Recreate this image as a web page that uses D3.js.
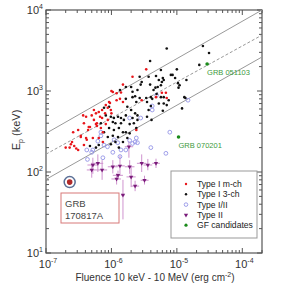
<!DOCTYPE html>
<html>
<head>
<meta charset="utf-8">
<script src="https://cdn.jsdelivr.net/npm/d3@7"></script>
<style>
  body { margin: 0; background: #fff; }
  svg { font-family: "Liberation Sans", Arial, sans-serif; }
</style>
</head>
<body>
<div id="plot-container"></div>
<script>
// [fluence (erg cm^-2), Ep (keV)]
const typeIMch = [
  [3.4e-6, 1850], [2.1e-6, 1500], [1.5e-6, 1200], [6.8e-6, 950], [1.0e-6, 1000],
  [1.05e-6, 970], [1.2e-6, 940], [1.4e-6, 960], [7.0e-6, 820], [5.9e-6, 950],
  [2.9e-6, 770], [4.8e-6, 840], [2.4e-6, 330], [5.4e-7, 583], [4.1e-7, 480],
  [5.0e-7, 500], [5.4e-7, 440], [5.8e-7, 530], [6.4e-7, 550], [8.2e-7, 670],
  [9.2e-7, 730], [8.8e-7, 620], [9.8e-7, 583], [7.2e-7, 464], [8.8e-7, 440],
  [4.5e-7, 360], [4.4e-7, 330], [5.8e-7, 390], [3.8e-7, 400], [6.9e-7, 350],
  [3.1e-7, 330], [2.6e-7, 310], [3.4e-7, 280], [2.4e-7, 220], [4.1e-7, 263],
  [6.4e-7, 263], [7.4e-7, 235], [2.0e-7, 200], [2.7e-7, 209], [2.3e-7, 200],
  [2.9e-7, 195], [3.8e-7, 215], [3.1e-7, 187], [8.2e-7, 390], [6.0e-7, 370],
  [1.2e-6, 770], [1.35e-6, 800], [1.5e-6, 732], [9.5e-7, 710], [7.2e-7, 583],
  [8.0e-7, 530], [1.0e-6, 530], [6.7e-7, 480], [3.7e-7, 500], [6.0e-7, 400],
  [4.7e-7, 360], [7.4e-7, 310], [3.4e-7, 270], [2.5e-7, 235], [4.2e-7, 250],
  [5.2e-7, 263]
];
const typeI3ch = [
  [7.0e-6, 3350], [2.5e-5, 3600], [3.1e-5, 2950], [3.9e-6, 2350], [5.7e-6, 1815],
  [1.0e-5, 1850], [8.1e-6, 1580], [9.4e-6, 1446], [1.4e-5, 1370], [1.1e-5, 1180],
  [1.06e-5, 1100], [6.3e-6, 1370], [5.3e-6, 1370], [5.7e-6, 1180], [4.7e-6, 1100],
  [4.4e-6, 1028], [4.9e-6, 918], [4.0e-6, 840], [3.4e-6, 820], [6.3e-6, 840],
  [3.5e-6, 732], [4.0e-6, 653], [5.3e-6, 700], [6.3e-6, 700], [3.7e-6, 583],
  [7.5e-6, 770], [1.3e-5, 840], [1.2e-5, 610], [3.5e-6, 480], [4.1e-6, 440],
  [4.8e-6, 1530], [6.1e-6, 1446], [8.6e-6, 1580], [3.7e-6, 1500], [2.9e-6, 1291],
  [2.8e-6, 1200], [3.9e-6, 1200], [5.1e-6, 1120], [5.9e-6, 1291], [2.5e-6, 1028],
  [2.1e-6, 980], [1.66e-6, 1120], [1.04e-5, 1250], [2.2e-5, 2100], [1.66e-6, 800],
  [2.1e-6, 840], [2.4e-6, 732], [2.7e-6, 820], [4.2e-6, 800], [5.7e-6, 840],
  [7.0e-6, 670], [6.1e-6, 570], [1.75e-6, 640], [2.0e-6, 583], [2.3e-6, 530],
  [2.5e-6, 500], [1.66e-6, 500], [2.1e-6, 464], [2.5e-6, 440], [2.2e-6, 400],
  [1.9e-6, 390], [2.4e-6, 350], [1.66e-6, 310], [1.9e-6, 300], [1.75e-6, 263],
  [1.35e-5, 820], [8.2e-7, 500], [9.8e-7, 480], [1.09e-6, 464], [1.26e-6, 480],
  [1.4e-6, 464], [1.05e-6, 414], [1.15e-6, 400], [1.4e-6, 400], [1.55e-6, 440],
  [7.7e-7, 310], [9.2e-7, 350], [1.09e-6, 330], [1.3e-6, 350], [1.5e-6, 310],
  [1.05e-6, 280], [1.26e-6, 270], [8.8e-7, 270], [6.9e-7, 400], [6.4e-7, 215],
  [9.8e-7, 220], [1.15e-6, 235], [1.5e-6, 235], [1.3e-6, 200], [5.8e-7, 200],
  [7.7e-7, 620], [9.2e-7, 640], [4.7e-7, 209], [1.35e-6, 1028], [2.3e-6, 860],
  [2.7e-6, 1500], [2.0e-6, 1120]
];
const typeIII = [
  [4.9e-6, 890], [4.2e-6, 653], [1.48e-5, 770], [1.9e-6, 464], [2.8e-6, 464],
  [4.2e-6, 583], [7.8e-6, 310], [2.4e-6, 263], [2.3e-6, 235], [1.66e-6, 187],
  [2.5e-6, 230], [4.0e-6, 200], [6.8e-6, 170], [4.3e-7, 143], [5.0e-7, 175],
  [1.05e-6, 175], [1.4e-6, 187], [7.4e-7, 150], [6.9e-7, 310], [6.2e-7, 240],
  [7.7e-7, 215], [6.9e-7, 280], [1.9e-6, 245], [1.25e-6, 230], [2.1e-6, 225],
  [4.2e-7, 187], [5.2e-7, 187], [8.7e-7, 205], [1.1e-6, 250], [1.35e-6, 155]
];
// [fluence, Ep, fluence low, fluence high, Ep low, Ep high]
const typeII = [
  [5.2e-7, 122, 4.3e-7, 6.3e-7, 95, 150],
  [5.0e-7, 106, 4.2e-7, 6.0e-7, 85, 130],
  [6.2e-7, 128, 5.1e-7, 7.5e-7, 100, 165],
  [7.2e-7, 106, 6.0e-7, 8.6e-7, 80, 140],
  [1.05e-6, 116, 8.8e-7, 1.25e-6, 96, 140],
  [1.35e-6, 119, 1.15e-6, 1.6e-6, 90, 160],
  [1.9e-6, 116, 1.6e-6, 2.25e-6, 95, 140],
  [1.85e-6, 205, 1.6e-6, 2.15e-6, 150, 240],
  [2.9e-6, 128, 2.45e-6, 3.4e-6, 100, 165],
  [3.6e-6, 122, 3.1e-6, 4.2e-6, 105, 145],
  [4.8e-6, 128, 4.2e-6, 5.5e-6, 112, 146],
  [1.26e-6, 91, 1.05e-6, 1.5e-6, 80, 104],
  [1.2e-6, 82, 1.0e-6, 1.4e-6, 70, 96],
  [2.0e-6, 87, 1.7e-6, 2.35e-6, 65, 115],
  [2.3e-6, 67, 2.0e-6, 2.65e-6, 58, 78],
  [3.2e-6, 79, 2.8e-6, 3.7e-6, 70, 90],
  [1.5e-6, 52, 1.4e-6, 1.6e-6, 26, 80]
];
const gfCandidates = [[2.9e-5, 2150, "GRB 051103"], [1.06e-5, 270, "GRB 070201"]];
const grb170817a = [2.3e-7, 75];
// relation lines: [[F1, Ep1], [F2, Ep2]]
const upperLine = [[1e-7, 300], [2.0e-4, 10000]];
const middleLine = [[1e-7, 166], [2.0e-4, 4900]];
const lowerLine = [[1e-7, 81], [2.0e-4, 2630]];

const xTickExps = [-7, -6, -5, -4];
const yTickExps = [1, 2, 3, 4];
const legendLabels = ["Type I m-ch", "Type I 3-ch", "Type I/II", "Type II", "GF candidates"];

const W = 289, H = 284;
const margin = {top: 10, right: 27, bottom: 31, left: 46};
const width = W - margin.left - margin.right,
      height = H - margin.top - margin.bottom;

const svg = d3.select("#plot-container").append("svg")
    .attr("width", W).attr("height", H);
const g = svg.append("g").attr("transform", `translate(${margin.left}, ${margin.top})`);

const x = d3.scaleLog().domain([1e-7, 2e-4]).range([0, width]);
const y = d3.scaleLog().domain([10, 1e4]).range([height, 0]);

g.append("clipPath").attr("id", "clip")
  .append("rect").attr("width", width).attr("height", height);

// axes with inward ticks on all four sides
const xMinor = x.ticks().filter(v => Math.abs(Math.log10(v) % 1) > 1e-6);
const yMinor = y.ticks().filter(v => Math.abs(Math.log10(v) % 1) > 1e-6);
const xMajor = xTickExps.map(e => Math.pow(10, e));
const yMajor = yTickExps.map(e => Math.pow(10, e));
const tickColor = "#555";

function ticks(vals, len, side) {
  vals.forEach(v => {
    if (side === "bottom" || side === "top") {
      const px = x(v), y0 = side === "bottom" ? height : 0, dir = side === "bottom" ? -1 : 1;
      g.append("line").attr("x1", px).attr("x2", px).attr("y1", y0).attr("y2", y0 + dir * len)
        .attr("stroke", tickColor).attr("stroke-width", 1);
    } else {
      const py = y(v), x0 = side === "left" ? 0 : width, dir = side === "left" ? 1 : -1;
      g.append("line").attr("y1", py).attr("y2", py).attr("x1", x0).attr("x2", x0 + dir * len)
        .attr("stroke", tickColor).attr("stroke-width", 1);
    }
  });
}
["bottom", "top"].forEach(s => { ticks(xMinor, 3, s); ticks(xMajor, 5, s); });
["left", "right"].forEach(s => { ticks(yMinor, 3, s); ticks(yMajor, 5, s); });

g.append("rect").attr("width", width).attr("height", height)
  .attr("fill", "none").attr("stroke", "#555").attr("stroke-width", 1.2);

// tick labels
xTickExps.forEach(e => {
  const t = g.append("text").attr("x", x(Math.pow(10, e)) + 2).attr("y", height + 15)
    .attr("text-anchor", "middle").attr("font-size", 11).attr("fill", "#333");
  t.append("tspan").text("10");
  t.append("tspan").attr("dy", -5).attr("font-size", 7).text(e);
});
yTickExps.forEach(e => {
  const t = g.append("text").attr("x", -3).attr("y", y(Math.pow(10, e)) + 4)
    .attr("text-anchor", "end").attr("font-size", 11).attr("fill", "#333");
  t.append("tspan").text("10");
  t.append("tspan").attr("dy", -5).attr("font-size", 7).text(e);
});

// axis titles
const xl = svg.append("text").attr("x", 155).attr("y", 281).attr("text-anchor", "middle")
  .attr("font-size", 10).attr("fill", "#333");
xl.append("tspan").text("Fluence 10 keV - 10 MeV (erg cm");
xl.append("tspan").attr("dy", -4).attr("font-size", 7).text("-2");
xl.append("tspan").attr("dy", 4).text(")");

const yl = svg.append("text").attr("transform", "translate(20, 130) rotate(-90)")
  .attr("text-anchor", "middle").attr("font-size", 11).attr("fill", "#333");
yl.append("tspan").text("E");
yl.append("tspan").attr("dy", 3).attr("font-size", 7).text("p");
yl.append("tspan").attr("dy", -3).text(" (keV)");

// relation lines
const plot = g.append("g").attr("clip-path", "url(#clip)");
const line = d3.line().x(d => x(d[0])).y(d => y(d[1]));
plot.append("path").datum(upperLine).attr("d", line).attr("fill", "none")
  .attr("stroke", "#999").attr("stroke-width", 1);
plot.append("path").datum(middleLine).attr("d", line).attr("fill", "none")
  .attr("stroke", "#999").attr("stroke-width", 1).attr("stroke-dasharray", "3,2");
plot.append("path").datum(lowerLine).attr("d", line).attr("fill", "none")
  .attr("stroke", "#999").attr("stroke-width", 1);

// Type II error bars and markers
const errColor = "#cf93cf", triColor = "#7a1c7a";
typeII.forEach(d => {
  plot.append("line").attr("x1", x(d[2])).attr("x2", x(d[3])).attr("y1", y(d[1])).attr("y2", y(d[1]))
    .attr("stroke", errColor).attr("stroke-width", 1);
  plot.append("line").attr("x1", x(d[0])).attr("x2", x(d[0])).attr("y1", y(d[4])).attr("y2", y(d[5]))
    .attr("stroke", errColor).attr("stroke-width", 1);
});
const tri = d3.symbol().type(d3.symbolTriangle).size(8);
plot.selectAll(".t2").data(typeII).join("path")
  .attr("transform", d => `translate(${x(d[0])},${y(d[1])}) rotate(180)`)
  .attr("d", tri).attr("fill", triColor);

// Type I/II open circles
plot.selectAll(".t12").data(typeIII).join("circle")
  .attr("cx", d => x(d[0])).attr("cy", d => y(d[1])).attr("r", 1.9)
  .attr("fill", "none").attr("stroke", "#9494e6").attr("stroke-width", 0.9);

plot.selectAll(".t13").data(typeI3ch).join("circle")
  .attr("cx", d => x(d[0])).attr("cy", d => y(d[1])).attr("r", 1.3).attr("fill", "#111");
plot.selectAll(".t1m").data(typeIMch).join("circle")
  .attr("cx", d => x(d[0])).attr("cy", d => y(d[1])).attr("r", 1.3).attr("fill", "#e8161b");

// GF candidates
plot.selectAll(".gf").data(gfCandidates).join("circle")
  .attr("cx", d => x(d[0])).attr("cy", d => y(d[1])).attr("r", 1.8).attr("fill", "#1a8a1a");
g.selectAll(".gfl").data(gfCandidates).join("text")
  .attr("x", d => x(d[0])).attr("y", d => y(d[1]) + 11)
  .attr("font-size", 7.5).attr("fill", "#3d9a3d").text(d => d[2]);

// GRB 170817A
g.append("circle").attr("cx", x(grb170817a[0])).attr("cy", y(grb170817a[1])).attr("r", 5.5)
  .attr("fill", "#fff").attr("stroke", "#5a6f96").attr("stroke-width", 1.5);
g.append("circle").attr("cx", x(grb170817a[0])).attr("cy", y(grb170817a[1])).attr("r", 2.8)
  .attr("fill", "#b02a2a");
g.append("rect").attr("x", 15).attr("y", 183).attr("width", 58).attr("height", 30)
  .attr("fill", "#fff").attr("stroke", "#d77878").attr("stroke-width", 1);
g.append("text").attr("x", 19).attr("y", 197).attr("font-size", 9.5).attr("fill", "#444").text("GRB");
g.append("text").attr("x", 19).attr("y", 209).attr("font-size", 9.5).attr("fill", "#444").text("170817A");

// legend
const lg = g.append("g").attr("transform", "translate(125, 161)");
lg.append("rect").attr("width", 86).attr("height", 67).attr("fill", "#fff")
  .attr("stroke", "#999").attr("stroke-width", 1);
legendLabels.forEach((lab, i) => {
  const cy = 13 + i * 10.3, cx = 15;
  if (i === 0) lg.append("circle").attr("cx", cx).attr("cy", cy).attr("r", 1.2).attr("fill", "#e8161b");
  if (i === 1) lg.append("circle").attr("cx", cx).attr("cy", cy).attr("r", 1.2).attr("fill", "#111");
  if (i === 2) lg.append("circle").attr("cx", cx).attr("cy", cy).attr("r", 1.8)
    .attr("fill", "none").attr("stroke", "#9494e6").attr("stroke-width", 0.9);
  if (i === 3) lg.append("path").attr("transform", `translate(${cx},${cy}) rotate(180)`)
    .attr("d", tri).attr("fill", triColor);
  if (i === 4) lg.append("circle").attr("cx", cx).attr("cy", cy).attr("r", 1.6).attr("fill", "#1a8a1a");
  lg.append("text").attr("x", 26).attr("y", cy + 3).attr("font-size", 8.6).attr("fill", "#222").text(lab);
});
</script>
</body>
</html>
